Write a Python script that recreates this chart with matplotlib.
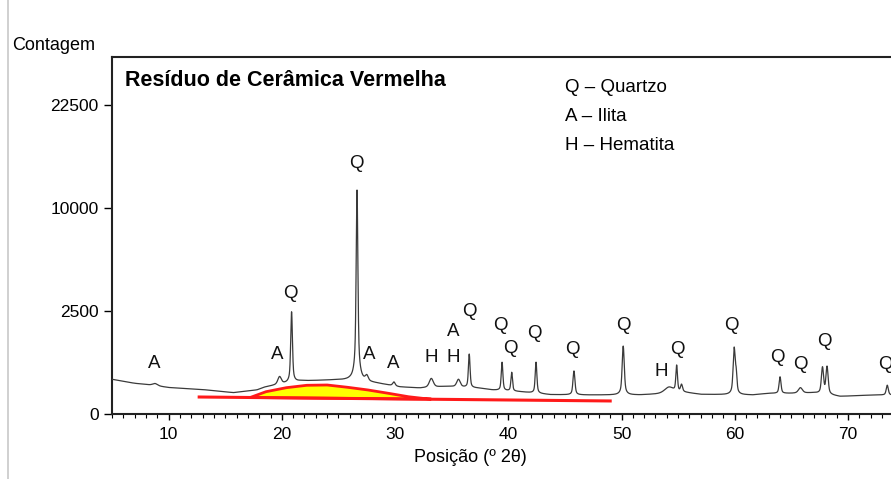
from __future__ import annotations

import numpy as np
import matplotlib

matplotlib.use("Agg")
import matplotlib.pyplot as plt
from matplotlib.lines import Line2D

plt.rcParams["font.family"] = ["Liberation Sans", "DejaVu Sans"]

# background of the pattern (2theta, counts)
bg_theta = [5.0, 6.0, 7.0, 8.0, 10.0, 12.7, 15.7, 17.8, 18.5, 21.6, 24.5, 26.0,
            28.4, 30.4, 32.2, 34.6, 37.5, 38.6, 41.0, 43.7, 47.0, 51.6, 53.7,
            55.5, 57.0, 61.6, 63.0, 65.0, 67.0, 69.3, 72.2, 74.0]
bg_counts = [284, 250, 222, 205, 165, 144, 107, 136, 170, 257, 272, 270,
             222, 172, 158, 180, 156, 136, 117, 88, 85, 85, 95,
             110, 90, 85, 100, 100, 105, 72, 85, 85]

# peaks: position, net height above background, fwhm
peak_theta = [8.8, 19.8, 20.86, 26.64, 27.5, 29.9, 33.2, 35.6, 36.55, 39.45,
              40.3, 42.45, 45.8, 50.15, 54.2, 54.87, 55.3, 59.95, 60.12, 64.0,
              65.8, 67.75, 68.15, 73.47]
peak_height = [30, 120, 2220, 11550, 90, 55, 130, 110, 680, 500,
               285, 530, 350, 1000, 70, 440, 90, 940, 300, 225,
               60, 420, 440, 110]
peak_fwhm = [0.5, 0.35, 0.15, 0.14, 0.3, 0.25, 0.4, 0.35, 0.15, 0.15,
             0.15, 0.15, 0.18, 0.18, 0.9, 0.15, 0.2, 0.18, 0.15, 0.18,
             0.4, 0.2, 0.2, 0.2]

# amorphous hump and its baseline
hump_theta = [17.2, 18.6, 20.4, 22.2, 24.0, 25.8, 27.6, 29.4, 31.2, 32.4, 33.2]
hump_counts = [64, 117, 163, 194, 198, 168, 136, 101, 70, 58, 52]
base_theta = [12.7, 49.0]
base_counts = [68, 40]

# phase labels: letter, 2theta, counts
label_text = ["A", "A", "Q", "Q", "A", "A", "H", "A", "H", "Q", "Q", "Q", "Q",
              "Q", "Q", "H", "Q", "Q", "Q", "Q", "Q", "Q"]
label_theta = [8.76, 19.6, 20.75, 26.59, 27.76, 29.82, 33.21, 35.18, 35.18,
               36.6, 39.31, 40.19, 42.34, 45.67, 50.2, 53.54, 54.91, 59.72,
               63.79, 65.82, 67.9, 73.27]
label_counts = [589, 820, 3433, 14728, 820, 589, 757, 1596, 757, 2466, 1825,
                1017, 1535, 986, 1825, 422, 986, 1825, 747, 566, 1232, 566]

legend_lines = ["Q \u2013 Quartzo", "A \u2013 Ilita", "H \u2013 Hematita"]
y_ticks = [0, 2500, 10000, 22500]
x_ticks = [10, 20, 30, 40, 50, 60, 70]


def _profile(x: np.ndarray, center: float, height: float, fwhm: float) -> np.ndarray:
    dx = (x - center) / (fwhm / 2)
    lor = 1.0 / (1.0 + dx ** 2)
    gau = np.exp(-np.log(2) * dx ** 2)
    return height * (0.5 * lor + 0.5 * gau)


def _pattern(theta: np.ndarray) -> np.ndarray:
    counts = np.interp(theta, bg_theta, bg_counts).astype(float)
    for c, h, w in zip(peak_theta, peak_height, peak_fwhm):
        counts += _profile(theta, c, h, w)
    return counts


def main() -> None:
    fig = plt.figure(figsize=(8.91, 4.79), dpi=100)
    ax = fig.add_axes([112 / 891, 65 / 479, 1 - 112 / 891, 357 / 479])

    ax.set_yscale("function", functions=(lambda v: np.sqrt(np.clip(v, 0, None)), np.square))

    ax.fill(hump_theta, hump_counts, facecolor="#ffff00", edgecolor="#ff1a1a",
            linewidth=2.0, zorder=2)
    ax.plot(base_theta, base_counts, color="#ff1a1a", linewidth=2.2, zorder=2)

    theta = np.arange(4.9, 74.5, 0.01)
    ax.plot(theta, _pattern(theta), color="#3a3a3a", linewidth=0.9, zorder=3)

    for txt, tx, ty in zip(label_text, label_theta, label_counts):
        ax.text(tx, ty, txt, ha="center", va="center", fontsize=13.5, color="#111111")

    ax.set_xlim(5, 73.8)
    ax.set_ylim(0, 30000)
    ax.set_xticks(x_ticks)
    ax.set_xticks(np.arange(5, 74, 1), minor=True)
    ax.set_yticks(y_ticks)
    ax.set_yticklabels([str(v) for v in y_ticks])
    ax.yaxis.set_minor_locator(matplotlib.ticker.NullLocator())
    ax.tick_params(axis="x", which="major", length=4.5, width=1, labelsize=12.5, pad=5)
    ax.tick_params(axis="x", which="minor", length=3, width=0.8)
    ax.tick_params(axis="y", length=5.5, width=1, labelsize=12.5, pad=4)

    ax.spines["right"].set_visible(False)
    for side in ("left", "bottom", "top"):
        ax.spines[side].set_linewidth(1.5)
        ax.spines[side].set_color("#222222")

    fig.text(12 / 891, 1 - 46 / 479, "Contagem", ha="left", va="center", fontsize=13)
    fig.text(470 / 891, 1 - 457 / 479, "Posi\u00e7\u00e3o (\u00ba 2\u03b8)",
             ha="center", va="center", fontsize=13)
    fig.text(125 / 891, 1 - 80 / 479, "Res\u00edduo de Cer\u00e2mica Vermelha",
             ha="left", va="center", fontsize=15.5, fontweight="bold")
    for i, line in enumerate(legend_lines):
        fig.text(565 / 891, 1 - (87 + 29.5 * i) / 479, line, ha="left", va="center",
                 fontsize=13.5)

    fig.add_artist(Line2D([8 / 891, 8 / 891], [0, 1], color="#c8c8c8", linewidth=1.2))

    fig.savefig("out.png", dpi=100)
    plt.close(fig)


if __name__ == "__main__":
    main()
